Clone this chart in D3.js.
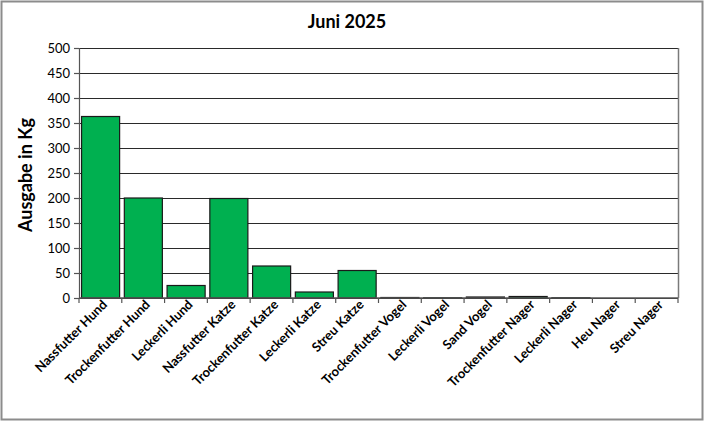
<!DOCTYPE html>
<html>
<head>
<meta charset="utf-8">
<script src="https://cdn.jsdelivr.net/npm/d3@7"></script>
<style>
  body { margin: 0; background: #fff; }
  text { font-family: Lato, "Open Sans", sans-serif; }
</style>
</head>
<body>
<div id="vis"></div>
<script>
// categories and values (kg)
var categories = ["Nassfutter Hund", "Trockenfutter Hund", "Leckerli Hund",
  "Nassfutter Katze", "Trockenfutter Katze", "Leckerli Katze", "Streu Katze",
  "Trockenfutter Vogel", "Leckerli Vogel", "Sand Vogel",
  "Trockenfutter Nager", "Leckerli Nager", "Heu Nager", "Streu Nager"];
var values = [363, 200, 25, 199, 64, 12, 55, 1, 0.5, 2, 3, 0.5, 0, 0];
var yTicks = [0, 50, 100, 150, 200, 250, 300, 350, 400, 450, 500];
var title = "Juni 2025";
var yTitle = "Ausgabe in Kg";

var W = 704, H = 421;
var margin = {top: 48, right: 26, bottom: 123, left: 79}
  , width = W - margin.left - margin.right
  , height = H - margin.top - margin.bottom;

var root = d3.select("#vis").append("svg")
  .attr("width", W)
  .attr("height", H);

// outer chart frame
root.append("rect")
  .attr("x", 1.5).attr("y", 1.5)
  .attr("width", W - 3).attr("height", H - 3)
  .attr("fill", "#fff")
  .attr("stroke", "#8c8c8c")
  .attr("stroke-width", 2);

root.append("text")
  .attr("x", 347).attr("y", 28)
  .attr("text-anchor", "middle")
  .attr("font-size", 18)
  .attr("font-weight", "bold")
  .text(title);

root.append("text")
  .attr("transform", "translate(32,175) rotate(-90)")
  .attr("text-anchor", "middle")
  .attr("font-size", 18)
  .attr("font-weight", "bold")
  .text(yTitle);

var svg = root.append("g")
  .attr("transform", "translate(" + margin.left + "," + margin.top + ")");

var xScale = d3.scaleBand()
  .domain(categories)
  .range([0, width])
  .paddingInner(0.11)
  .paddingOuter(0.06);

var yScale = d3.scaleLinear()
  .domain([0, 500])
  .range([height, 0]);

// grid lines
svg.append("g")
  .selectAll("line")
  .data(yTicks)
  .join("line")
  .attr("x1", 0).attr("x2", width)
  .attr("y1", function(d) { return Math.round(yScale(d)) + 0.5; })
  .attr("y2", function(d) { return Math.round(yScale(d)) + 0.5; })
  .attr("stroke", "#2a2a2a")
  .attr("stroke-width", 1.2);

// right border of plot area
svg.append("line")
  .attr("x1", width + 0.5).attr("x2", width + 0.5)
  .attr("y1", 0).attr("y2", height)
  .attr("stroke", "#7a7a7a")
  .attr("stroke-width", 1.5);

// bars
svg.append("g")
  .selectAll("rect")
  .data(values)
  .join("rect")
  .attr("x", function(d, i) { return xScale(categories[i]); })
  .attr("width", xScale.bandwidth())
  .attr("y", function(d) { return yScale(d); })
  .attr("height", function(d) { return height - yScale(d); })
  .attr("fill", "#00b050")
  .attr("stroke", "#1a1a1a")
  .attr("stroke-width", 1.2);

// y axis
var yAxis = svg.append("g")
  .call(d3.axisLeft(yScale).tickValues(yTicks).tickSize(5).tickPadding(4));
yAxis.selectAll("text").attr("font-size", 13).attr("fill", "#000");
yAxis.selectAll("line, path").attr("stroke", "#555").attr("stroke-width", 1.2);

// x axis: ticks at category boundaries
var xAxis = svg.append("g")
  .attr("transform", "translate(0," + height + ")");
xAxis.append("line")
  .attr("x1", 0).attr("x2", width)
  .attr("stroke", "#555").attr("stroke-width", 1.5);
var step = width / categories.length;
xAxis.selectAll(".tk")
  .data(d3.range(categories.length + 1))
  .join("line")
  .attr("class", "tk")
  .attr("x1", function(i) { return i * step; })
  .attr("x2", function(i) { return i * step; })
  .attr("y1", 0).attr("y2", 5)
  .attr("stroke", "#555").attr("stroke-width", 1.2);

xAxis.selectAll(".lbl")
  .data(categories)
  .join("text")
  .attr("class", "lbl")
  .attr("transform", function(d) {
    return "translate(" + (xScale(d) + xScale.bandwidth() / 2 + 1) + ",1) rotate(-45)";
  })
  .attr("text-anchor", "end")
  .attr("dy", "0.7em")
  .attr("font-size", 13)
  .attr("font-weight", "bold")
  .text(function(d) { return d; });
</script>
</body>
</html>
